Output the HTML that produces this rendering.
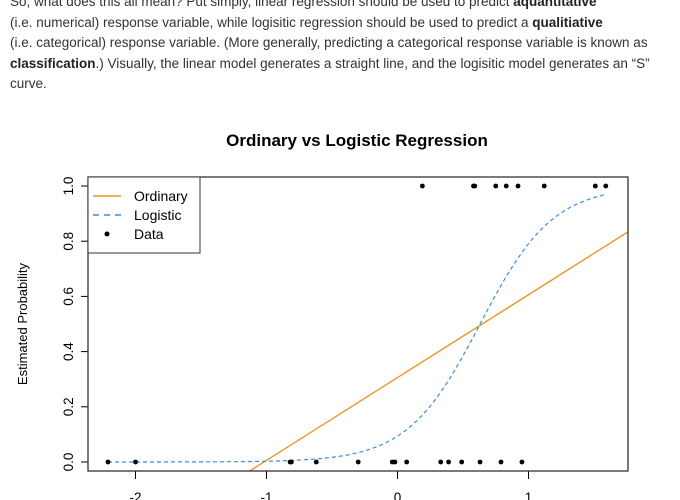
<!DOCTYPE html>
<html><head><meta charset="utf-8"><style>
html,body{margin:0;width:680px;height:500px;overflow:hidden;background:#fff;font-family:"Liberation Sans",sans-serif;}
#txt{position:absolute;left:10px;top:-8px;width:670px;font-size:13.5px;line-height:20.5px;color:#333;}
#txt b{color:#222}
svg{position:absolute;left:0;top:0}
</style></head><body>
<div id="txt">So, what does this all mean? Put simply, linear regression should be used to predict <b>aquantitative</b><br>(i.e. numerical) response variable, while logisitic regression should be used to predict a <b>qualitiative</b><br>(i.e. categorical) response variable. (More generally, predicting a categorical response variable is known as<br><b>classification</b>.) Visually, the linear model generates a straight line, and the logisitic model generates an “S”<br>curve.</div>
<svg id="chart" width="680" height="500"></svg>
<script>
const xZero=[-2.21,-2.0,-0.82,-0.81,-0.62,-0.30,-0.04,-0.02,0.07,0.33,0.39,0.49,0.63,0.79,0.95];
const xOne=[0.19,0.58,0.59,0.75,0.83,0.92,1.12,1.51,1.59];
const linCoef=[0.306,0.30];
const logCoef=[-2.27,3.6];
const xTicks=[-2,-1,0,1];
const yTicks=[0,0.2,0.4,0.6,0.8,1.0];
const L=88,R=628,T=177,B=471;
const sx=v=>397.5+v*131, sy=v=>462-v*276;
const svg=document.getElementById('chart');const NS='http://www.w3.org/2000/svg';
function mk(t,a,p){const e=document.createElementNS(NS,t);for(const k in a)e.setAttribute(k,a[k]);(p||svg).appendChild(e);return e;}
let e;
e=mk('text',{x:357,y:146,'text-anchor':'middle','font-size':17,'font-weight':'bold'});e.textContent='Ordinary vs Logistic Regression';


e=mk('text',{x:27,y:324,'text-anchor':'middle','font-size':13,transform:'rotate(-90 27 324)'});e.textContent='Estimated Probability';


const defs=mk('defs',{});const cp=mk('clipPath',{id:'c'},defs);mk('rect',{x:L,y:T,width:R-L,height:B-T},cp);
yTicks.forEach(v=>{mk('line',{x1:L-7,x2:L,y1:sy(v),y2:sy(v),stroke:'#000'});
e=mk('text',{x:L-15,y:sy(v),'text-anchor':'middle','font-size':13.5,transform:`rotate(-90 ${L-15} ${sy(v)})`});e.textContent=v.toFixed(1);

});
xTicks.forEach(v=>{mk('line',{x1:sx(v),x2:sx(v),y1:B,y2:B+8,stroke:'#000'});
e=mk('text',{x:sx(v),y:B+31,'text-anchor':'middle','font-size':13.5});e.textContent=v;

});
const xmin=(L-397.5)/131,xmax=(R-397.5)/131;
e=mk('line',{x1:sx(xmin),y1:sy(linCoef[0]+linCoef[1]*xmin),x2:sx(xmax),y2:sy(linCoef[0]+linCoef[1]*xmax),stroke:'#f28e1c','stroke-width':1.3,'clip-path':'url(#c)'});


const all=xZero.concat(xOne);const lo=Math.min(...all),hi=Math.max(...all);
let d='';for(let i=0;i<=100;i++){const x=lo+(hi-lo)*i/100;const p=1/(1+Math.exp(-(logCoef[0]+logCoef[1]*x)));d+=(i?'L':'M')+sx(x).toFixed(1)+','+sy(p).toFixed(1);}
e=mk('path',{d:d,fill:'none',stroke:'#3a8ee0','stroke-width':1.2,'stroke-dasharray':'4 3'});


xZero.forEach(v=>{e=mk('circle',{cx:sx(v),cy:sy(0),r:2.4,fill:'#000'});

});
xOne.forEach(v=>{e=mk('circle',{cx:sx(v),cy:sy(1),r:2.4,fill:'#000'});

});
mk('rect',{x:L,y:T,width:R-L,height:B-T,fill:'none',stroke:'#333','stroke-width':1.3});
const g=mk('g',{});
mk('rect',{x:L,y:T,width:112,height:76,fill:'#fff',stroke:'#333'},g);
mk('line',{x1:93,x2:121,y1:196,y2:196,stroke:'#f28e1c','stroke-width':1.5},g);
mk('line',{x1:93,x2:121,y1:215,y2:215,stroke:'#3a8ee0','stroke-width':1.5,'stroke-dasharray':'6 5'},g);
mk('circle',{cx:107,cy:234,r:2.5,fill:'#000'},g);
[['Ordinary',201],['Logistic',220],['Data',239]].forEach(([t,y])=>{const x=mk('text',{x:134,y:y,'font-size':14},g);x.textContent=t;});
</script>
</body></html>
